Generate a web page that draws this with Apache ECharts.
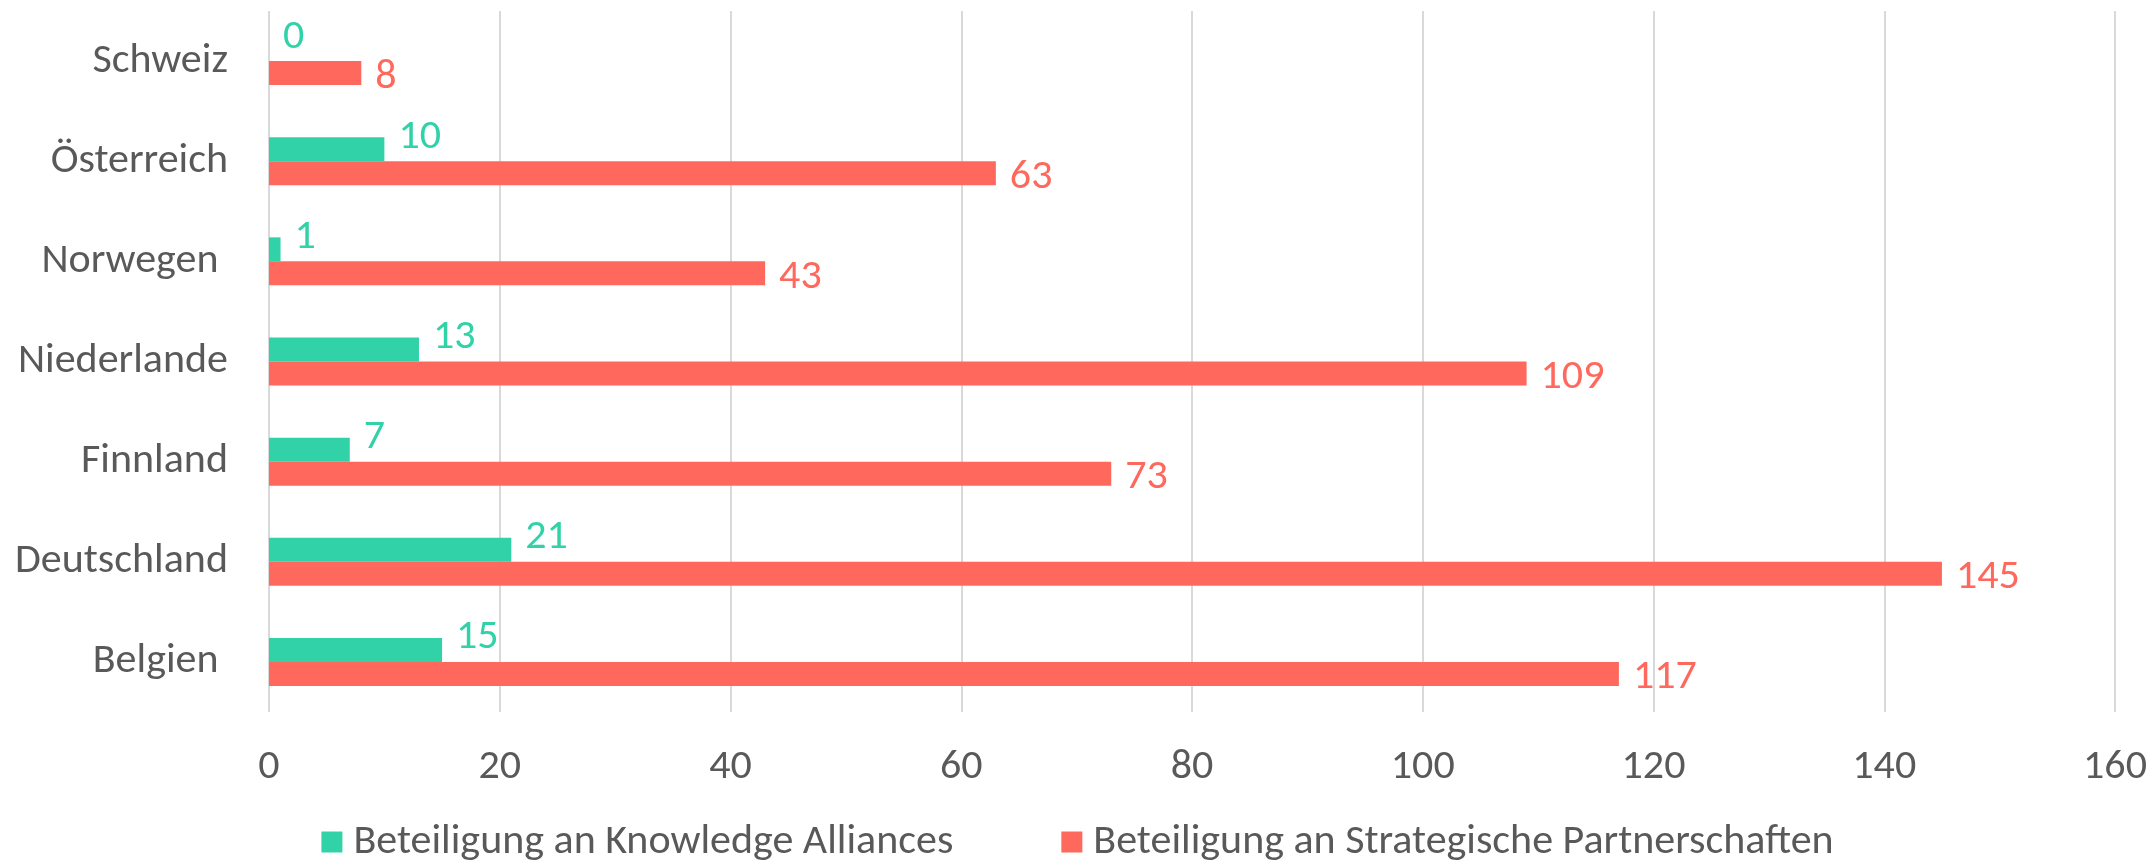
<!DOCTYPE html>
<html>
<head>
<meta charset="utf-8">
<script src="https://cdn.jsdelivr.net/npm/echarts@6/dist/echarts.min.js"></script>
<style>
  html, body { margin: 0; padding: 0; background: #fff; }
  #chart { width: 2155px; height: 862px; }
</style>
</head>
<body>
<div id="chart"></div>
<script>
// bottom to top, as ECharts lays out a category y axis
const countries = ['Belgien ', 'Deutschland', 'Finnland', 'Niederlande', 'Norwegen ', 'Österreich', 'Schweiz'];
const knowledgeAlliances = [15, 21, 7, 13, 1, 10, 0];
const strategischePartner = [117, 145, 73, 109, 43, 63, 8];
const seriesNames = ['Beteiligung an Knowledge Alliances', 'Beteiligung an Strategische Partnerschaften'];

const FONT = 'Carlito, Calibri, Lato, sans-serif';
const SIZE = 42;
const GREEN = '#32D2A8';
const RED = '#FF685D';
const GREY = '#595959';

const chart = echarts.init(document.getElementById('chart'));

chart.setOption({
  animation: false,
  textStyle: { fontFamily: FONT },
  grid: { left: 269, right: 40, top: 11, bottom: 150 },
  legend: {
    top: 816,
    left: 'center',
    itemWidth: 21,
    itemHeight: 21,
    itemGap: 108,
    icon: 'rect',
    textStyle: { fontFamily: FONT, fontSize: SIZE, color: GREY, padding: [0, 0, 0, 6] },
    data: seriesNames
  },
  xAxis: {
    type: 'value',
    min: 0,
    max: 160,
    interval: 20,
    axisLine: { show: false },
    axisTick: { show: false },
    axisLabel: { fontFamily: FONT, fontSize: SIZE, color: GREY, margin: 34 },
    splitLine: { show: true, lineStyle: { color: '#D9D9D9', width: 2 } }
  },
  yAxis: {
    type: 'category',
    data: countries,
    axisLine: { show: false },
    axisTick: { show: false },
    axisLabel: { fontFamily: FONT, fontSize: SIZE, color: GREY, margin: 41 }
  },
  series: [
    {
      name: seriesNames[0],
      type: 'bar',
      data: knowledgeAlliances,
      barWidth: 24,
      barGap: '0%',
      itemStyle: { color: GREEN },
      label: {
        show: true,
        position: 'right',
        distance: 14,
        offset: [0, -12],
        color: GREEN,
        fontFamily: FONT,
        fontSize: SIZE
      }
    },
    {
      name: seriesNames[1],
      type: 'bar',
      data: strategischePartner,
      barWidth: 24,
      barGap: '0%',
      itemStyle: { color: RED },
      label: {
        show: true,
        position: 'right',
        distance: 14,
        offset: [0, 4],
        color: RED,
        fontFamily: FONT,
        fontSize: SIZE
      }
    }
  ]
});
</script>
</body>
</html>
